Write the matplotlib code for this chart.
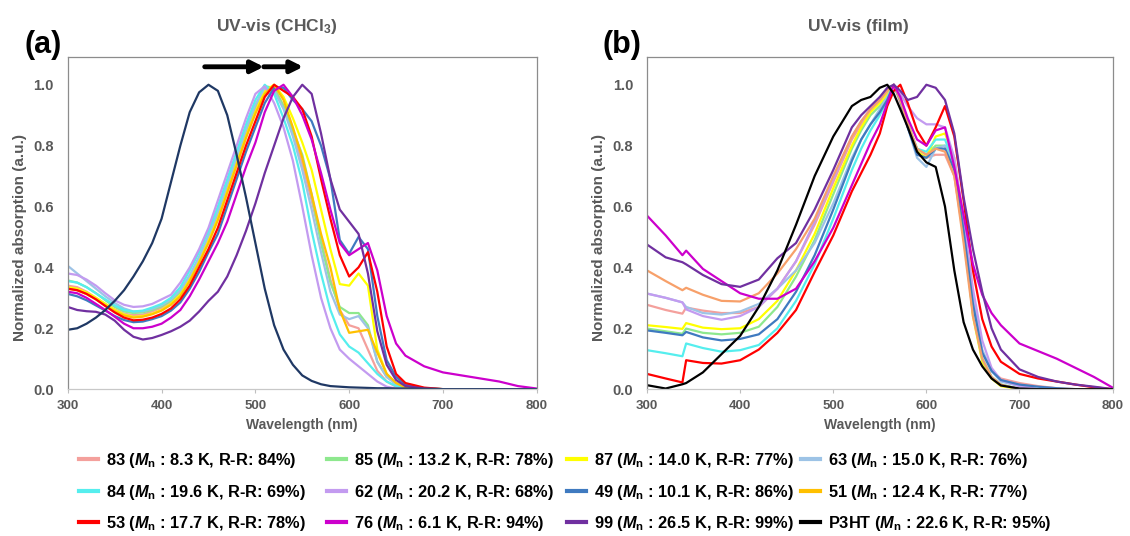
import numpy as np
import matplotlib.pyplot as plt
from matplotlib.lines import Line2D

plt.rcParams['font.family'] = ['Liberation Sans', 'DejaVu Sans']
plt.rcParams['font.weight'] = 'bold'
plt.rcParams['axes.labelweight'] = 'bold'
plt.rcParams['mathtext.fontset'] = 'custom'
plt.rcParams['mathtext.rm'] = 'Liberation Sans:bold'
plt.rcParams['mathtext.it'] = 'Liberation Sans:italic:bold'
plt.rcParams['mathtext.bf'] = 'Liberation Sans:bold'

# sample names, Mn (kDa) and regioregularity (%)
names = ['83', '85', '87', '63', '84', '62', '49', '51', '53', '76', '99', 'P3HT']
mn = [8.3, 13.2, 14.0, 15.0, 19.6, 20.2, 10.1, 12.4, 17.7, 6.1, 26.5, 22.6]
rr = [84, 78, 77, 76, 69, 68, 86, 77, 78, 94, 99, 95]

# ---------- (a) solution, CHCl3 ----------
wl_sol = list(range(300, 670, 10)) + [680, 700, 730, 760, 780, 800]

sol_83 = [0.34, 0.335, 0.32, 0.30, 0.28, 0.262, 0.248, 0.243, 0.245, 0.255,
          0.267, 0.285, 0.315, 0.36, 0.42, 0.49, 0.57, 0.66, 0.75, 0.84,
          0.92, 0.98, 0.99, 0.93, 0.84, 0.74, 0.62, 0.49, 0.36, 0.26,
          0.21, 0.20, 0.13, 0.06, 0.025, 0.008, 0.002,
          0, 0, 0, 0, 0, 0]
sol_85 = [0.357, 0.35, 0.335, 0.315, 0.292, 0.27, 0.255, 0.25, 0.252, 0.26,
          0.272, 0.29, 0.32, 0.37, 0.43, 0.50, 0.58, 0.67, 0.76, 0.85,
          0.93, 0.995, 0.99, 0.93, 0.85, 0.77, 0.64, 0.48, 0.35, 0.27,
          0.25, 0.25, 0.21, 0.09, 0.04, 0.02, 0.008,
          0.002, 0, 0, 0, 0, 0]
sol_87 = [0.335, 0.33, 0.318, 0.30, 0.28, 0.26, 0.245, 0.237, 0.24, 0.248,
          0.26, 0.28, 0.31, 0.36, 0.42, 0.49, 0.56, 0.65, 0.74, 0.83,
          0.91, 0.98, 1.0, 0.96, 0.89, 0.81, 0.72, 0.59, 0.46, 0.345,
          0.34, 0.38, 0.34, 0.13, 0.05, 0.02, 0.008,
          0.002, 0, 0, 0, 0, 0]
sol_63 = [0.405, 0.38, 0.355, 0.33, 0.305, 0.283, 0.265, 0.255, 0.256, 0.264,
          0.276, 0.295, 0.325, 0.375, 0.435, 0.505, 0.585, 0.675, 0.765, 0.855,
          0.935, 0.99, 0.98, 0.92, 0.83, 0.72, 0.59, 0.45, 0.32, 0.245,
          0.23, 0.24, 0.20, 0.09, 0.04, 0.015, 0.005,
          0, 0, 0, 0, 0, 0]
sol_84 = [0.355, 0.35, 0.335, 0.315, 0.295, 0.275, 0.26, 0.255, 0.258, 0.268,
          0.28, 0.30, 0.335, 0.39, 0.45, 0.52, 0.60, 0.69, 0.78, 0.87,
          0.95, 1.0, 0.97, 0.89, 0.80, 0.68, 0.52, 0.38, 0.26, 0.18,
          0.14, 0.12, 0.085, 0.05, 0.025, 0.01, 0.003,
          0, 0, 0, 0, 0, 0]
sol_62 = [0.38, 0.375, 0.36, 0.34, 0.315, 0.292, 0.277, 0.27, 0.272, 0.28,
          0.295, 0.31, 0.35, 0.40, 0.46, 0.53, 0.62, 0.71, 0.80, 0.89,
          0.97, 0.995, 0.94, 0.86, 0.75, 0.60, 0.44, 0.30, 0.20, 0.13,
          0.10, 0.075, 0.05, 0.025, 0.008, 0.002, 0.001,
          0, 0, 0, 0, 0, 0]
sol_49 = [0.313, 0.305, 0.292, 0.275, 0.258, 0.24, 0.227, 0.22, 0.222, 0.23,
          0.24, 0.258, 0.285, 0.33, 0.385, 0.45, 0.51, 0.60, 0.69, 0.78,
          0.86, 0.94, 0.99, 0.99, 0.95, 0.92, 0.88, 0.80, 0.69, 0.49,
          0.445, 0.50, 0.46, 0.24, 0.095, 0.04, 0.015,
          0.003, 0, 0, 0, 0, 0]
sol_51 = [0.33, 0.325, 0.312, 0.295, 0.275, 0.256, 0.242, 0.235, 0.238, 0.246,
          0.258, 0.277, 0.305, 0.355, 0.415, 0.48, 0.555, 0.645, 0.735, 0.825,
          0.905, 0.97, 1.0, 0.95, 0.86, 0.76, 0.64, 0.51, 0.40, 0.26,
          0.185, 0.19, 0.195, 0.12, 0.05, 0.02, 0.006,
          0, 0, 0, 0, 0, 0]
sol_53 = [0.33, 0.325, 0.313, 0.295, 0.273, 0.252, 0.235, 0.226, 0.228, 0.235,
          0.247, 0.265, 0.295, 0.34, 0.40, 0.46, 0.53, 0.62, 0.71, 0.80,
          0.88, 0.96, 1.0, 0.98, 0.96, 0.92, 0.83, 0.69, 0.56, 0.44,
          0.37, 0.40, 0.45, 0.32, 0.14, 0.05, 0.02,
          0.005, 0, 0, 0, 0, 0]
sol_76 = [0.32, 0.315, 0.30, 0.28, 0.26, 0.238, 0.215, 0.20, 0.20, 0.205,
          0.215, 0.235, 0.26, 0.305, 0.36, 0.42, 0.48, 0.55, 0.64, 0.73,
          0.81, 0.91, 0.98, 1.0, 0.96, 0.90, 0.82, 0.71, 0.59, 0.48,
          0.44, 0.46, 0.48, 0.39, 0.24, 0.15, 0.11,
          0.075, 0.055, 0.04, 0.025, 0.01, 0.002]
sol_99 = [0.27, 0.26, 0.256, 0.254, 0.245, 0.225, 0.195, 0.172, 0.163, 0.168,
          0.178, 0.19, 0.205, 0.225, 0.255, 0.29, 0.32, 0.37, 0.44, 0.52,
          0.61, 0.71, 0.80, 0.89, 0.96, 1.0, 0.97, 0.84, 0.69, 0.59,
          0.55, 0.51, 0.38, 0.19, 0.08, 0.03, 0.01,
          0.002, 0, 0, 0, 0, 0]
sol_p3ht = [0.195, 0.20, 0.215, 0.235, 0.26, 0.29, 0.325, 0.37, 0.42, 0.48,
            0.56, 0.68, 0.80, 0.91, 0.975, 1.0, 0.98, 0.90, 0.77, 0.63,
            0.48, 0.33, 0.21, 0.13, 0.08, 0.045, 0.027, 0.016, 0.01, 0.008,
            0.006, 0.005, 0.004, 0.003, 0.003, 0.002, 0.002,
            0.001, 0, 0, 0, 0, 0]

# ---------- (b) film ----------
wl_film = [300, 320, 338, 342, 360, 380, 400, 420, 440, 460, 480, 500, 520, 530,
           540, 550, 558, 565, 572, 580, 590, 600, 610, 620, 630, 640, 650, 660,
           670, 680, 700, 720, 740, 760, 780, 800]

film_83 = [0.277, 0.26, 0.248, 0.268, 0.258, 0.25, 0.25, 0.27, 0.33, 0.42,
           0.54, 0.68, 0.82, 0.87, 0.92, 0.95, 0.98, 1.0, 0.94, 0.86,
           0.78, 0.76, 0.77, 0.77, 0.70, 0.50, 0.27, 0.12, 0.06, 0.035,
           0.02, 0.01, 0.003, 0, 0, 0]
film_85 = [0.199, 0.19, 0.182, 0.199, 0.185, 0.18, 0.185, 0.205, 0.27, 0.37,
           0.49, 0.64, 0.79, 0.85, 0.90, 0.93, 0.96, 1.0, 0.95, 0.87,
           0.79, 0.77, 0.80, 0.80, 0.72, 0.50, 0.25, 0.10, 0.04, 0.015,
           0, 0, 0, 0, 0, 0]
film_87 = [0.21, 0.204, 0.198, 0.217, 0.202, 0.197, 0.20, 0.23, 0.29, 0.39,
           0.51, 0.66, 0.80, 0.86, 0.91, 0.94, 0.97, 1.0, 0.96, 0.88,
           0.78, 0.76, 0.83, 0.84, 0.76, 0.54, 0.24, 0.09, 0.035, 0.01,
           0, 0, 0, 0, 0, 0]
film_63 = [0.314, 0.30, 0.285, 0.27, 0.25, 0.245, 0.255, 0.28, 0.33, 0.39,
           0.48, 0.61, 0.76, 0.82, 0.87, 0.92, 0.96, 1.0, 0.95, 0.86,
           0.76, 0.73, 0.79, 0.80, 0.74, 0.55, 0.30, 0.13, 0.06, 0.025,
           0.01, 0, 0, 0, 0, 0]
film_84 = [0.128, 0.118, 0.108, 0.15, 0.135, 0.123, 0.128, 0.145, 0.20, 0.29,
           0.41, 0.56, 0.72, 0.79, 0.85, 0.90, 0.95, 1.0, 0.95, 0.87,
           0.79, 0.78, 0.82, 0.82, 0.74, 0.52, 0.25, 0.10, 0.04, 0.015,
           0, 0, 0, 0, 0, 0]
film_62 = [0.314, 0.30, 0.285, 0.262, 0.24, 0.228, 0.24, 0.27, 0.33, 0.42,
           0.55, 0.69, 0.83, 0.88, 0.92, 0.95, 0.98, 1.0, 0.97, 0.93,
           0.89, 0.87, 0.87, 0.86, 0.76, 0.56, 0.33, 0.16, 0.07, 0.03,
           0.01, 0, 0, 0, 0, 0]
film_49 = [0.193, 0.185, 0.177, 0.188, 0.17, 0.16, 0.165, 0.18, 0.23, 0.32,
           0.44, 0.59, 0.75, 0.82, 0.87, 0.91, 0.95, 1.0, 0.95, 0.86,
           0.77, 0.76, 0.79, 0.79, 0.72, 0.52, 0.28, 0.12, 0.06, 0.03,
           0.015, 0.008, 0.003, 0, 0, 0]
film_51 = [0.39, 0.355, 0.325, 0.333, 0.31, 0.29, 0.288, 0.315, 0.38, 0.46,
           0.56, 0.70, 0.83, 0.88, 0.92, 0.95, 0.98, 1.0, 0.95, 0.87,
           0.79, 0.77, 0.79, 0.78, 0.70, 0.48, 0.24, 0.10, 0.04, 0.015,
           0, 0, 0, 0, 0, 0]
film_53 = [0.05, 0.035, 0.022, 0.095, 0.086, 0.084, 0.095, 0.13, 0.185, 0.26,
           0.385, 0.505, 0.65, 0.71, 0.77, 0.84, 0.93, 0.98, 1.0, 0.94,
           0.85, 0.80, 0.86, 0.93, 0.83, 0.62, 0.39, 0.23, 0.14, 0.09,
           0.05, 0.035, 0.025, 0.015, 0.006, 0]
film_76 = [0.57, 0.505, 0.44, 0.455, 0.395, 0.355, 0.315, 0.297, 0.297, 0.33,
           0.42, 0.53, 0.67, 0.74, 0.81, 0.87, 0.94, 1.0, 0.96, 0.89,
           0.82, 0.80, 0.85, 0.86, 0.73, 0.57, 0.41, 0.31, 0.25, 0.21,
           0.15, 0.125, 0.10, 0.07, 0.04, 0.005]
film_99 = [0.475, 0.433, 0.417, 0.41, 0.375, 0.345, 0.336, 0.36, 0.43, 0.48,
           0.59, 0.72, 0.86, 0.90, 0.93, 0.96, 0.99, 1.0, 0.98, 0.95,
           0.96, 1.0, 0.99, 0.95, 0.84, 0.63, 0.46, 0.32, 0.20, 0.13,
           0.065, 0.04, 0.025, 0.015, 0.008, 0]
film_p3ht = [0.013, 0.002, 0.016, 0.02, 0.055, 0.115, 0.175, 0.27, 0.39, 0.54,
             0.70, 0.83, 0.93, 0.95, 0.96, 0.99, 1.0, 0.97, 0.92, 0.86,
             0.78, 0.745, 0.73, 0.60, 0.39, 0.22, 0.13, 0.075, 0.035, 0.012,
             0.002, 0, 0, 0, 0, 0]

sol = [sol_83, sol_85, sol_87, sol_63, sol_84, sol_62, sol_49, sol_51,
       sol_53, sol_76, sol_99, sol_p3ht]
film = [film_83, film_85, film_87, film_63, film_84, film_62, film_49, film_51,
        film_53, film_76, film_99, film_p3ht]

colors = ['#F4A09C', '#8EE88E', '#FFFF00', '#9DC3E6', '#55EEEE', '#C39BF0',
          '#3F7AC0', '#FFC000', '#FF0000', '#CC00CC', '#7030A0', '#000000']
colors_sol = colors[:-1] + ['#1F3864']
colors_film = colors[:7] + ['#F7A06A'] + colors[8:]

gray = '#595959'

fig = plt.figure(figsize=(11.3, 5.36), dpi=100)
ax1 = fig.add_axes([0.060, 0.274, 0.415, 0.619])
ax2 = fig.add_axes([0.5726, 0.274, 0.412, 0.619])

for ax, wl, data, cols in [(ax1, wl_sol, sol, colors_sol),
                           (ax2, wl_film, film, colors_film)]:
    for y, c in zip(data, cols):
        ax.plot(wl, y, color=c, lw=1.6)
    ax.set_xlim(300, 800)
    ax.set_ylim(0, 1.09)
    ax.set_xticks(np.arange(300, 801, 100))
    ax.set_yticks(np.arange(0, 1.01, 0.2))
    ax.set_yticklabels(['%.1f' % v for v in np.arange(0, 1.01, 0.2)])
    ax.tick_params(axis='x', length=3, color='#BFBFBF', labelcolor=gray,
                   labelsize=9.5, pad=5)
    ax.tick_params(axis='y', length=0, labelcolor=gray, labelsize=10.5, pad=10)
    for s in ax.spines.values():
        s.set_color('#8C8C8C')
        s.set_linewidth(0.9)
    ax.spines['bottom'].set_color('#C8C8C8')
    ax.set_xlabel('Wavelength (nm)', color=gray, fontsize=10, labelpad=4)
    ax.set_ylabel('Normalized absorption (a.u.)', color=gray, fontsize=11)
    ax.yaxis.set_label_coords(-0.088, 0.458)

# red-shift arrows
for x0, x1 in [(446, 509), (509, 551)]:
    ax1.annotate('', xy=(x1, 1.059), xytext=(x0, 1.059),
                 arrowprops=dict(arrowstyle='-|>', lw=3.5, color='black',
                                 mutation_scale=18, shrinkA=0, shrinkB=0))

fig.text(277 / 1130, 1 - 26 / 536, 'UV-vis (CHCl$_3$)', ha='center',
         va='center', color=gray, fontsize=12.5)
fig.text(858 / 1130, 1 - 26 / 536, 'UV-vis (film)', ha='center',
         va='center', color=gray, fontsize=12.5)
fig.text(25 / 1130, 1 - 45 / 536, '(a)', ha='left', va='center',
         fontsize=22)
fig.text(603 / 1130, 1 - 45 / 536, '(b)', ha='left', va='center',
         fontsize=22)

# legend, 3 rows x 4 columns, filled row by row
col_x = [106, 354, 594, 828]
row_y = [459, 491, 522]
for i, (n, m, r, c) in enumerate(zip(names, mn, rr, colors)):
    tx = col_x[i % 4]
    ty = row_y[i // 4]
    fig.add_artist(Line2D([(tx - 27) / 1130, (tx - 8) / 1130],
                          [1 - ty / 536, 1 - ty / 536],
                          transform=fig.transFigure, color=c, lw=3))
    fig.text(tx / 1130, 1 - (ty + 6) / 536,
             '%s ($M_\\mathrm{n}$ : %.1f K, R-R: %d%%)' % (n, m, r),
             ha='left', va='baseline', fontsize=11.8)

fig.savefig('out.png', dpi=100)
